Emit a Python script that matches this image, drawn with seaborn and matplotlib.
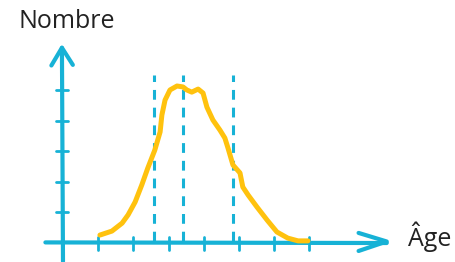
import numpy as np
import pandas as pd
import matplotlib
matplotlib.use("Agg")
import matplotlib.pyplot as plt
import seaborn as sns

# courbe de distribution (unites du graphique)
ages = [1.05, 1.39, 1.68, 1.85, 2.05, 2.24, 2.41, 2.61, 2.76, 2.81, 2.90, 3.04,
        3.24, 3.41, 3.52, 3.66, 3.84, 3.98, 4.09, 4.26, 4.46, 4.60, 4.69, 4.83,
        5.03, 5.11, 5.26, 5.51, 5.80, 6.08, 6.39, 6.68, 6.96]
counts = [0.26, 0.39, 0.65, 0.92, 1.34, 1.90, 2.45, 3.04, 3.63, 4.18, 4.67, 5.00,
          5.13, 5.10, 5.00, 4.93, 5.03, 4.90, 4.44, 4.02, 3.69, 3.43, 3.10, 2.55,
          2.29, 1.83, 1.57, 1.18, 0.75, 0.36, 0.16, 0.07, 0.07]
x_ticks = [1, 2, 3, 4, 5, 6, 7]
y_ticks = [1, 2, 3, 4, 5]
dashed_x = [2.59, 3.41, 4.83]
dashed_top = 5.49
x_label = "Âge"
y_label = "Nombre"

BLUE = "#17b2d6"
YELLOW = "#ffc20e"

sns.set_style("white")
plt.rcParams["font.family"] = ["Open Sans", "DejaVu Sans"]

fig = plt.figure(figsize=(4.55, 2.62), dpi=100)
ax = fig.add_axes([0, 0, 1, 1])
ax.set_xlim(-1.79, 11.14)
ax.set_ylim(-0.62, 7.94)
ax.axis("off")

# axes dessines a la main
ax.plot([-0.5, 9.2], [0.02, 0.0], color=BLUE, lw=3, solid_capstyle="round")
ax.plot([9.2 - 0.8, 9.2, 9.2 - 0.8], [0.33, 0.05, -0.26], color=BLUE, lw=3,
        solid_capstyle="round", solid_joinstyle="round")
ax.plot([0.0, -0.03], [-0.6, 6.38], color=BLUE, lw=3, solid_capstyle="round")
ax.plot([-0.33, -0.03, 0.28], [5.8, 6.38, 5.82], color=BLUE, lw=3,
        solid_capstyle="round", solid_joinstyle="round")

for t in x_ticks:
    ax.plot([t, t], [-0.22, 0.2], color=BLUE, lw=2, solid_capstyle="round")
for t in y_ticks:
    ax.plot([-0.2, 0.15], [t, t], color=BLUE, lw=2, solid_capstyle="round")

# lignes pointillees
ax.vlines(dashed_x, 0.05, dashed_top, colors=BLUE, lw=2.2,
          linestyles=(0, (3.2, 2.6)))

df = pd.DataFrame({"age": ages, "nombre": counts})
sns.lineplot(data=df, x="age", y="nombre", ax=ax, color=YELLOW, lw=3.6,
             sort=False, solid_capstyle="round", solid_joinstyle="round")

ax.text(0.11, 7.25, y_label, fontsize=18, color="#222222", ha="center", va="center")
ax.text(10.43, 0.2, x_label, fontsize=18, color="#222222", ha="center", va="center")

fig.savefig("out.png", dpi=100)
